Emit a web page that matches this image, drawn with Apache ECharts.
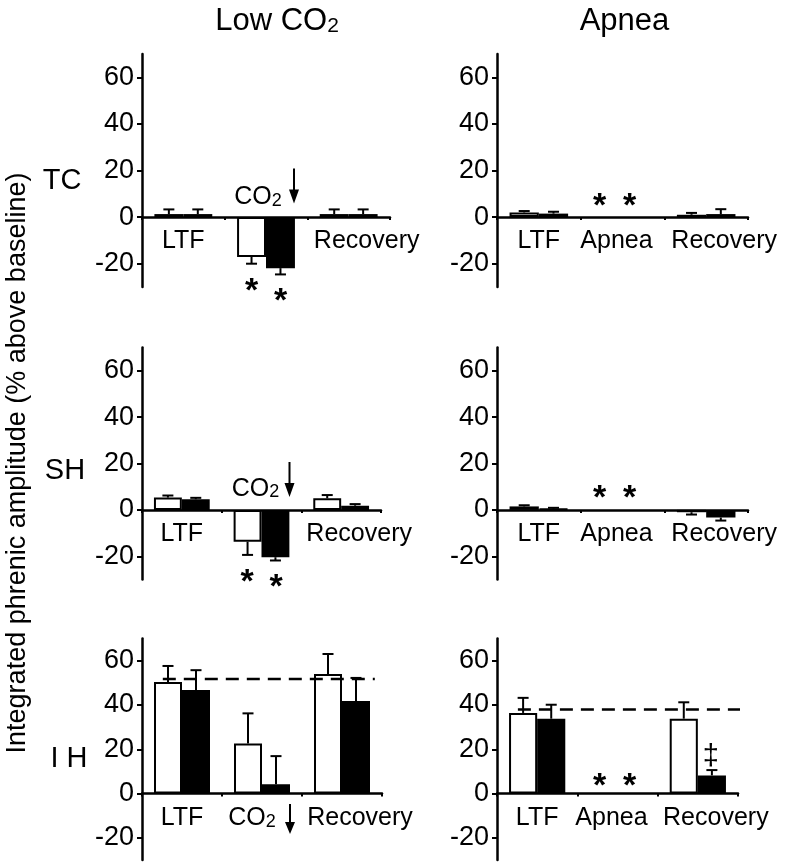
<!DOCTYPE html>
<html><head><meta charset="utf-8">
<script src="https://cdn.jsdelivr.net/npm/echarts@6/dist/echarts.min.js"></script>
<style>html,body{margin:0;padding:0;background:#fff}#c{width:787px;height:867px}</style>
</head><body><div id="c"></div>
<script>
const FONT = '"Liberation Sans", Arial, sans-serif';

// ---------- data ----------
const catsLow = ['LTF', 'CO2', 'Recovery'];
const catsApnea = ['LTF', 'Apnea', 'Recovery'];
const yTicks = [-20, 0, 20, 40, 60];
const yMin = -30, yMax = 70;

// TC, Low CO2
const tcLowWhite = [1.3, -17.1, 1.3];
const tcLowWhiteErr = [3.3, -20.0, 3.3];
const tcLowBlack = [1.3, -21.9, 1.3];
const tcLowBlackErr = [3.3, -24.6, 3.3];
const tcLowStars = [-29.3, -33.6];
// TC, Apnea
const tcApWhite = [2.0, null, 1.0];
const tcApWhiteErr = [2.6, null, 1.8];
const tcApBlack = [1.5, null, 1.3];
const tcApBlackErr = [2.3, null, 3.4];
const tcApStars = [7.2, 7.2];
// SH, Low CO2
const shLowWhite = [5.3, -13.7, 5.0];
const shLowWhiteErr = [6.2, -19.4, 6.4];
const shLowBlack = [4.6, -20.4, 1.8];
const shLowBlackErr = [5.2, -21.8, 2.5];
const shLowStars = [-28.9, -31.0];
// SH, Apnea
const shApWhite = [1.5, null, -1.0];
const shApWhiteErr = [2.0, null, -2.0];
const shApBlack = [0.5, null, -3.3];
const shApBlackErr = [0.9, null, -4.6];
const shApStars = [7.3, 7.3];
// IH, Low CO2
const ihLowWhite = [50.4, 22.6, 54.0];
const ihLowWhiteErr = [57.6, 36.2, 63.0];
const ihLowBlack = [46.7, 4.2, 41.8];
const ihLowBlackErr = [55.7, 16.9, 52.2];
const ihLowBaseline = 51.7;
// IH, Apnea
const ihApWhite = [36.4, null, 33.8];
const ihApWhiteErr = [43.2, null, 41.2];
const ihApBlack = [33.8, null, 8.2];
const ihApBlackErr = [40.1, null, 10.6];
const ihApStars = [6.0, 6.0];
const ihApBaseline = 37.9;
const ihApDagger = 20;

// ---------- layout ----------
const grids = [
  {left: 142, top: 54, width: 248, height: 233},
  {left: 497, top: 54, width: 251, height: 233},
  {left: 142, top: 347.5, width: 239, height: 232},
  {left: 497, top: 347.5, width: 251, height: 232},
  {left: 142, top: 638.5, width: 240, height: 221.5},
  {left: 497, top: 638.5, width: 241, height: 221.5}
];

const panels = [
  {cats: catsLow, w: tcLowWhite, we: tcLowWhiteErr, b: tcLowBlack, be: tcLowBlackErr,
   stars: tcLowStars, starCat: 1, starDx: [-14.5, 14.5], co2Above: true, co2Val: 8.5, co2Dx: -8, arrowVal: 13.4, arrowH: 35},
  {cats: catsApnea, w: tcApWhite, we: tcApWhiteErr, b: tcApBlack, be: tcApBlackErr,
   stars: tcApStars, starCat: 1, starDx: [-23, 7]},
  {cats: catsLow, w: shLowWhite, we: shLowWhiteErr, b: shLowBlack, be: shLowBlackErr,
   stars: shLowStars, starCat: 1, starDx: [-14.5, 14.5], co2Above: true, co2Val: 9, co2Dx: -6, arrowVal: 13.1, arrowH: 35},
  {cats: catsApnea, w: shApWhite, we: shApWhiteErr, b: shApBlack, be: shApBlackErr,
   stars: shApStars, starCat: 1, starDx: [-23, 7]},
  {cats: catsLow, w: ihLowWhite, we: ihLowWhiteErr, b: ihLowBlack, be: ihLowBlackErr,
   co2Above: false, arrowVal: -11.5, arrowH: 30, baseline: ihLowBaseline, dashX: [0.26, 2.91]},
  {cats: catsApnea, w: ihApWhite, we: ihApWhiteErr, b: ihApBlack, be: ihApBlackErr,
   stars: ihApStars, starCat: 1, starDx: [-18, 12], baseline: ihApBaseline, dashX: [0.26, 3.06],
   dagger: ihApDagger}
];

const LBL = 25;
const rich = {
  n: {fontSize: LBL, fontFamily: FONT, color: '#000'},
  rec: {fontSize: LBL, fontFamily: FONT, color: '#000', padding: [0, 0, 0, 36]},
  ap: {fontSize: LBL, fontFamily: FONT, color: '#000', padding: [0, 12, 0, 0]},
  co: {fontSize: LBL, fontFamily: FONT, color: '#000'},
  s: {fontSize: 18, fontFamily: FONT, color: '#000', verticalAlign: 'bottom', padding: [0, 20, 0, 0]}
};
const arrowPath = 'path://M4,0L6,0L6,21L10,21L5,35L0,21L4,21Z';

const xAxis = [], yAxis = [], series = [];
panels.forEach((p, i) => {
  // place the category axis on the zero line of its value axis
  const zeroOffset = -grids[i].height * (0 - yMin) / (yMax - yMin);
  xAxis.push({
    type: 'category', gridIndex: i, data: p.cats, position: 'bottom', offset: zeroOffset,
    axisLine: {onZero: false, lineStyle: {color: '#000', width: 2.5}},
    axisTick: {show: true, length: 3, lineStyle: {color: '#000', width: 2}},
    axisLabel: {
      interval: 0, margin: 12, fontSize: LBL, fontFamily: FONT, color: '#000',
      formatter: v => {
        if (v === 'Recovery') return '{rec|Recovery}';
        if (v === 'Apnea') return '{ap|Apnea}';
        if (v === 'CO2') return p.co2Above ? '' : '{co|CO}{s|2}';
        return '{n|' + v + '}';
      },
      rich: rich
    },
    splitLine: {show: false}
  });
  yAxis.push({
    type: 'value', gridIndex: i, min: yMin, max: yMax,
    axisLine: {show: true, onZero: false, lineStyle: {color: '#000', width: 2.5}},
    axisTick: {show: true, length: 5, customValues: yTicks, lineStyle: {color: '#000', width: 2}},
    axisLabel: {customValues: yTicks, fontSize: 27, fontFamily: FONT, color: '#000', margin: 8},
    splitLine: {show: false}
  });
});

panels.forEach((p, i) => {
  const toBar = arr => arr.map(v => v === null ? '-' : v);
  series.push({
    type: 'bar', xAxisIndex: i, yAxisIndex: i, data: toBar(p.w),
    barWidth: '35%', barGap: '0%',
    itemStyle: {color: '#fff', borderColor: '#000', borderWidth: 2}, z: 2
  });
  series.push({
    type: 'bar', xAxisIndex: i, yAxisIndex: i, data: toBar(p.b),
    barWidth: '35%', barGap: '0%',
    itemStyle: {color: '#000', borderColor: '#000', borderWidth: 2}, z: 2
  });
  const errData = [];
  p.w.forEach((v, k) => { if (v !== null) errData.push([k, v, p.we[k], -1]); });
  p.b.forEach((v, k) => { if (v !== null) errData.push([k, v, p.be[k], 1]); });
  series.push({
    type: 'custom', xAxisIndex: i, yAxisIndex: i, data: errData, z: 3,
    encode: {x: 0, y: 1},
    renderItem: (params, api) => {
      const cat = api.value(0), v = api.value(1), e = api.value(2), side = api.value(3);
      const bw = api.size([1, 0])[0] * 0.35;
      const p0 = api.coord([cat, v]);
      const p1 = api.coord([cat, e]);
      const x = p0[0] + side * bw / 2;
      return {type: 'group', children: [
        {type: 'line', shape: {x1: x, y1: p0[1], x2: x, y2: p1[1]}, style: {stroke: '#000', lineWidth: 2}},
        {type: 'line', shape: {x1: x - 5.5, y1: p1[1], x2: x + 5.5, y2: p1[1]}, style: {stroke: '#000', lineWidth: 2}}
      ]};
    }
  });
  if (p.stars) {
    series.push({
      type: 'scatter', xAxisIndex: i, yAxisIndex: i, clip: false, z: 5,
      symbolSize: 1, itemStyle: {color: 'rgba(0,0,0,0)', opacity: 1},
      data: p.stars.map((v, k) => ({value: [p.starCat, v], label: {offset: [p.starDx[k], 6]}})),
      label: {show: true, position: 'inside', formatter: '*', fontSize: 34, fontWeight: 'bold',
              fontFamily: FONT, color: '#000'}
    });
  }
  if (p.co2Above) {
    series.push({
      type: 'scatter', xAxisIndex: i, yAxisIndex: i, clip: false, z: 5,
      symbolSize: 1, itemStyle: {color: 'rgba(0,0,0,0)', opacity: 1},
      data: [{value: [1, p.co2Val]}],
      label: {show: true, position: 'inside', offset: [p.co2Dx, 0], formatter: '{co|CO}{s2|2}',
              rich: {co: {fontSize: LBL, fontFamily: FONT, color: '#000'},
                     s2: {fontSize: 18, fontFamily: FONT, color: '#000', verticalAlign: 'bottom'}}}
    });
  }
  if (p.arrowVal !== undefined) {
    series.push({
      type: 'scatter', xAxisIndex: i, yAxisIndex: i, clip: false, z: 5,
      symbol: arrowPath, symbolSize: [10, p.arrowH], symbolOffset: [28, 0], symbolKeepAspect: false,
      itemStyle: {color: '#000', opacity: 1},
      data: [[1, p.arrowVal]]
    });
  }
  if (p.dagger !== undefined) {
    series.push({
      type: 'scatter', xAxisIndex: i, yAxisIndex: i, clip: false, z: 5,
      symbolSize: 1, itemStyle: {color: 'rgba(0,0,0,0)', opacity: 1},
      data: [{value: [2, p.dagger]}],
      label: {show: true, position: 'inside', offset: [13, 8], formatter: '\u2021', fontSize: 29,
              fontFamily: FONT, color: '#000'}
    });
  }
});

// hidden value axes for baseline dashed lines
panels.forEach((p, i) => {
  if (p.baseline === undefined) return;
  const ax = xAxis.length;
  xAxis.push({type: 'value', gridIndex: i, min: 0, max: 3, show: false});
  series.push({
    type: 'line', xAxisIndex: ax, yAxisIndex: i, clip: false, z: 4, symbol: 'none',
    lineStyle: {color: '#000', width: 2.5, type: [13, 8]},
    data: [[p.dashX[0], p.baseline], [p.dashX[1], p.baseline]]
  });
});

const graphic = [
  {type: 'text', x: 277, y: 21, style: {text: 'Low CO{s|2}', fontSize: 31, fontFamily: FONT, fill: '#000',
    align: 'center', verticalAlign: 'middle',
    rich: {s: {fontSize: 21, fontFamily: FONT, fill: '#000', verticalAlign: 'bottom'}}}},
  {type: 'text', x: 624.5, y: 21, style: {text: 'Apnea', fontSize: 31, fontFamily: FONT, fill: '#000',
    align: 'center', verticalAlign: 'middle'}},
  {type: 'text', x: 62, y: 181, style: {text: 'TC', fontSize: 29, fontFamily: FONT, fill: '#000', align: 'center', verticalAlign: 'middle'}},
  {type: 'text', x: 65, y: 471, style: {text: 'SH', fontSize: 29, fontFamily: FONT, fill: '#000', align: 'center', verticalAlign: 'middle'}},
  {type: 'text', x: 69, y: 759, style: {text: 'I H', fontSize: 29, fontFamily: FONT, fill: '#000', align: 'center', verticalAlign: 'middle'}},
  {type: 'text', x: 18, y: 463, rotation: Math.PI / 2,
    style: {text: 'Integrated phrenic amplitude (% above baseline)', fontSize: 27, fontFamily: FONT, fill: '#000',
      align: 'center', verticalAlign: 'middle'}}
];

const chart = echarts.init(document.getElementById('c'), null, {renderer: 'canvas'});
chart.setOption({
  backgroundColor: '#fff',
  animation: false,
  grid: grids,
  xAxis: xAxis,
  yAxis: yAxis,
  series: series,
  graphic: graphic
});
</script>
</body></html>
